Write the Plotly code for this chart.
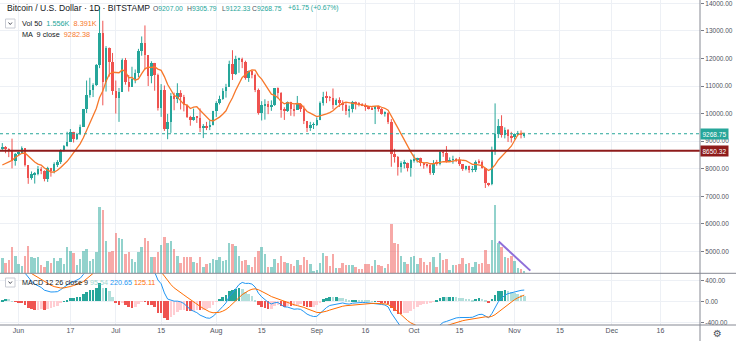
import plotly.graph_objects as go
import pandas as pd

# ---------------- data ----------------
dates = pd.date_range("2019-05-27", "2019-11-04", freq="D")

opens = [8740, 8770, 8720, 8660, 8270, 8550, 8560, 8740, 8120, 7680,
         7790, 7800, 7990, 7930, 7630, 8010, 7920, 8170, 8230, 8690,
         8840, 8980, 9320, 9080, 9270, 9530, 10150, 10690, 10850, 11030,
         11760, 12930, 11160, 12380, 11880, 10820, 10580, 10800, 11960, 11160,
         10980, 11260, 11480, 12290, 12570, 12120, 11380, 11820, 11390, 10220,
         10860, 9440, 9710, 10640, 10530, 10760, 10590, 10330, 9890, 9770,
         9880, 9850, 9480, 9530, 9500, 9600, 10080, 10400, 10530, 10820,
         10980, 11800, 11450, 11980, 11990, 11870, 11280, 11550, 11390, 10870,
         10030, 10300, 10360, 10230, 10330, 10920, 10760, 10130, 10110, 10410,
         10150, 10130, 10360, 10180, 9720, 9490, 9590, 9600, 9770, 10380,
         10620, 10580, 10570, 10310, 10490, 10400, 10320, 10100, 10160, 10420,
         10360, 10350, 10310, 10260, 10190, 10160, 10270, 10180, 9990, 10030,
         9690, 8530, 8430, 8060, 8190, 8210, 8040, 8300, 8330, 8390,
         8220, 8140, 8120, 7860, 8210, 8180, 8590, 8580, 8270, 8320,
         8340, 8310, 8160, 8000, 8080, 7960, 7970, 8240, 8230, 8030,
         7470, 7430, 8660, 9260, 9550, 9220, 9420, 9180, 9150, 9250,
         9310, 9207.00]

highs = [8930, 8820, 8740, 9090, 8570, 8620, 8810, 8750, 8120, 7900,
         7880, 8100, 8060, 7940, 8070, 8030, 8230, 8310, 8700, 8860,
         9340, 9440, 9340, 9300, 9600, 10170, 11200, 11300, 11100, 11800,
         13880, 13370, 12450, 12400, 12200, 11200, 10930, 12000, 12020, 11400,
         11700, 11600, 12350, 12800, 13200, 12120, 11900, 11840, 11450, 11070,
         11020, 9990, 10750, 10760, 11100, 10850, 10680, 10330, 9920, 10180,
         9900, 10190, 9620, 9700, 9750, 10100, 10450, 10650, 10920, 11080,
         11920, 12300, 12100, 12030, 12030, 11920, 11560, 11560, 11450, 10910,
         10450, 10520, 10460, 10480, 10930, 10950, 10780, 10230, 10440, 10430,
         10330, 10640, 10380, 10290, 9720, 9700, 9680, 9860, 10440, 10790,
         10800, 10640, 10910, 10550, 10590, 10480, 10380, 10290, 10460, 10440,
         10420, 10380, 10370, 10270, 10270, 10280, 10280, 10200, 10080, 10050,
         9800, 8720, 8460, 8270, 8320, 8220, 8340, 8520, 8400, 8400,
         8230, 8170, 8160, 8310, 8320, 8670, 8650, 8820, 8410, 8470,
         8390, 8420, 8170, 8110, 8110, 8100, 8300, 8340, 8300, 8040,
         7490, 8800, 10370, 9800, 9940, 9500, 9440, 9340, 9280, 9370,
         9390, 9305.79]

lows = [8650, 8560, 8420, 8010, 8110, 8470, 8530, 8080, 7450, 7600,
        7460, 7760, 7800, 7540, 7520, 7710, 7830, 8060, 8170, 8620,
        8800, 8970, 8950, 9040, 9220, 9530, 10020, 10580, 10600, 11000,
        11650, 10300, 10800, 11340, 10680, 10000, 9700, 10800, 11050, 10800,
        10980, 11100, 11320, 12100, 11600, 11000, 11100, 10830, 10110, 9880,
        9370, 9070, 9300, 10120, 10380, 10150, 10080, 9840, 9560, 9740,
        9660, 9330, 9110, 9400, 9400, 9570, 9880, 10330, 10500, 10580,
        10980, 11220, 11400, 11480, 11650, 11230, 11150, 11280, 10780, 9960,
        9750, 9780, 9980, 10100, 10280, 10550, 9850, 9770, 10060, 9920,
        9900, 10130, 10060, 9620, 9330, 9370, 9440, 9550, 9760, 10290,
        10380, 10450, 10160, 10300, 10240, 10100, 9950, 9860, 10040, 10150,
        10260, 10270, 10100, 10150, 10140, 9620, 10070, 9960, 9890, 9620,
        8070, 8220, 7750, 7860, 8010, 7900, 7710, 8220, 8220, 8090,
        8000, 8040, 7780, 7770, 8110, 8120, 8430, 8220, 8250, 8180,
        8240, 8100, 7920, 7940, 7850, 7870, 7880, 8180, 8000, 7300,
        7360, 7400, 8500, 9110, 9130, 9100, 8970, 8950, 9060, 9220,
        9100, 9122.33]

closes = [8770, 8720, 8660, 8270, 8550, 8560, 8740, 8120, 7680, 7790,
          7800, 7990, 7930, 7630, 8010, 7920, 8170, 8230, 8690, 8840,
          8980, 9320, 9080, 9270, 9530, 10150, 10690, 10850, 11030, 11760,
          12930, 11160, 12380, 11880, 10820, 10580, 10800, 11960, 11160, 10980,
          11260, 11480, 12290, 12570, 12120, 11380, 11820, 11390, 10220, 10860,
          9440, 9710, 10640, 10530, 10760, 10590, 10330, 9890, 9770, 9880,
          9850, 9480, 9530, 9500, 9600, 10080, 10400, 10530, 10820, 10980,
          11800, 11450, 11980, 11990, 11870, 11280, 11550, 11390, 10870, 10030,
          10300, 10360, 10230, 10330, 10920, 10760, 10130, 10110, 10410, 10150,
          10130, 10360, 10180, 9720, 9490, 9590, 9600, 9770, 10380, 10620,
          10580, 10570, 10310, 10490, 10400, 10320, 10100, 10160, 10420, 10360,
          10350, 10310, 10260, 10190, 10160, 10270, 10180, 9990, 10030, 9690,
          8530, 8430, 8060, 8190, 8210, 8040, 8300, 8330, 8390, 8220,
          8140, 8120, 7860, 8210, 8180, 8590, 8580, 8270, 8320, 8340,
          8310, 8160, 8000, 8080, 7960, 7970, 8240, 8230, 8030, 7470,
          7430, 8660, 9260, 9550, 9220, 9420, 9180, 9150, 9250, 9310,
          9207, 9268.75]

# volume, thousands of BTC
volumes = [9.4, 6.4, 8.0, 16.0, 10.6, 5.4, 4.6, 10.6, 16.4, 9.6,
           9.2, 9.6, 5.0, 4.0, 7.6, 6.0, 9.0, 7.6, 9.0, 5.6,
           16.0, 13.2, 12.0, 5.0, 8.4, 13.4, 14.4, 7.6, 8.4, 12.6,
           39.6, 38.0, 19.6, 13.0, 13.4, 24.2, 21.2, 20.4, 11.6, 12.8,
           8.4, 7.0, 12.8, 16.0, 21.0, 19.6, 9.6, 10.0, 13.0, 17.0,
           21.8, 18.0, 19.2, 14.4, 10.6, 6.0, 10.0, 9.6, 10.0, 6.6,
           6.0, 10.0, 4.0, 5.4, 6.0, 8.4, 8.0, 9.6, 7.4, 8.0,
           18.0, 17.4, 16.4, 10.6, 7.6, 8.0, 4.8, 3.6, 9.6, 13.4,
           15.6, 11.6, 4.0, 3.6, 8.4, 6.4, 10.4, 7.0, 6.0, 5.4,
           4.4, 7.8, 5.0, 9.6, 8.0, 5.6, 1.6, 2.0, 6.4, 12.0,
           10.6, 4.6, 11.4, 3.2, 3.2, 6.4, 5.0, 4.8, 4.8, 4.0,
           2.6, 2.4, 5.6, 5.6, 4.6, 8.0, 4.8, 4.4, 3.4, 5.6,
           29.6, 18.4, 17.6, 10.6, 6.8, 5.6, 10.0, 10.6, 5.4, 9.4,
           6.8, 4.8, 6.8, 10.0, 3.6, 12.4, 8.0, 8.4, 2.0, 4.8,
           4.8, 5.4, 9.0, 5.6, 6.0, 3.6, 6.8, 5.6, 6.0, 14.0,
           5.6, 20.0, 41.0, 18.4, 15.6, 9.6, 9.2, 10.4, 7.2, 3.2,
           2.6, 1.556]

# MA(9) values for the first bars (history before the visible range)
ma9_head = [8135, 8190, 8265, 8300, 8405, 8480, 8560, 8570]
# indicator state just before the first visible bar (EMA12, EMA26, signal)
macd_seed = {"ema12": 7640.0, "ema26": 7060.0, "signal": 595.0}

support_level = 8650.32
last_price = 9268.75
trend_dates = ["2019-10-27 03:00", "2019-11-05 21:00"]
trend_vol = [19.0, 1.6]

tick_dates = ["2019-06-01", "2019-06-17", "2019-07-01", "2019-07-15", "2019-08-01",
              "2019-08-15", "2019-09-01", "2019-09-16", "2019-10-01", "2019-10-15",
              "2019-11-01", "2019-11-15", "2019-12-01", "2019-12-16"]
tick_text = ["Jun", "17", "Jul", "15", "Aug", "15", "Sep", "16", "Oct", "15",
             "Nov", "15", "Dec", "16"]
price_ticks = [5000, 6000, 7000, 8000, 9000, 10000, 11000, 12000, 13000, 14000]
macd_ticks = [-400, 0, 400]

# ---------------- derived series ----------------
UP, DN = "#26a69a", "#ef5350"
n = len(closes)
up = [closes[i] >= opens[i] for i in range(n)]

ma9 = []
for i in range(n):
    if i < 8:
        ma9.append(ma9_head[i])
    else:
        ma9.append(sum(closes[i - 8:i + 1]) / 9.0)

e12, e26, sig = macd_seed["ema12"], macd_seed["ema26"], macd_seed["signal"]
macd, signal, hist = [], [], []
for c in closes:
    e12 += 2 / 13 * (c - e12)
    e26 += 2 / 27 * (c - e26)
    m = e12 - e26
    sig += 0.2 * (m - sig)
    macd.append(m)
    signal.append(sig)
    hist.append(m - sig)
hist_colors = []
for i, h in enumerate(hist):
    prev = hist[i - 1] if i > 0 else h
    if h >= 0:
        hist_colors.append("#26a69a" if h >= prev else "#b2dfdb")
    else:
        hist_colors.append("#ffcdd2" if h >= prev else "#ef5350")

DAY = 86400000
fig = go.Figure()

# volume (overlay axis)
fig.add_trace(go.Bar(x=dates, y=volumes, yaxis="y2", xaxis="x",
                     width=0.76 * DAY,
                     marker=dict(color=["rgba(38,166,154,0.5)" if u else "rgba(239,83,80,0.5)" for u in up],
                                 line=dict(width=0)),
                     hoverinfo="skip", showlegend=False))

# candles: wicks
for flag, col in ((True, UP), (False, DN)):
    wx, wy = [], []
    for i in range(n):
        if up[i] == flag:
            wx += [dates[i], dates[i], None]
            wy += [lows[i], highs[i], None]
    fig.add_trace(go.Scatter(x=wx, y=wy, mode="lines", line=dict(color=col, width=1),
                             yaxis="y", xaxis="x", hoverinfo="skip", showlegend=False))

# candles: bodies
body_base = [min(opens[i], closes[i]) for i in range(n)]
body_h = [max(abs(closes[i] - opens[i]), 25) for i in range(n)]
fig.add_trace(go.Bar(x=dates, y=body_h, base=body_base, yaxis="y", xaxis="x",
                     width=0.76 * DAY,
                     marker=dict(color=[UP if u else DN for u in up], line=dict(width=0)),
                     hoverinfo="skip", showlegend=False))

# MA 9
fig.add_trace(go.Scatter(x=dates, y=ma9, mode="lines", line=dict(color="#f7782b", width=1.3),
                         yaxis="y", xaxis="x", hoverinfo="skip", showlegend=False))

# MACD
fig.add_trace(go.Bar(x=dates, y=hist, yaxis="y3", xaxis="x", width=0.8 * DAY,
                     marker=dict(color=hist_colors, line=dict(width=0)),
                     hoverinfo="skip", showlegend=False))
fig.add_trace(go.Scatter(x=dates, y=macd, mode="lines", line=dict(color="#2196f3", width=1),
                         yaxis="y3", xaxis="x", hoverinfo="skip", showlegend=False))
fig.add_trace(go.Scatter(x=dates, y=signal, mode="lines", line=dict(color="#ff6d00", width=1),
                         yaxis="y3", xaxis="x", hoverinfo="skip", showlegend=False))

W, H = 736, 341
PW, PH = 700, 325
MAIN_BOTTOM = 273.3
dom_split = 1 - MAIN_BOTTOM / PH


def px(v):
    return v / PW


def py(v):
    return 1 - v / PH


GRID = "#edf0f5"
TXT = "#50535e"
FONT = "Liberation Sans, Arial, sans-serif"

fig.update_layout(
    width=W, height=H,
    margin=dict(l=0, r=W - PW, t=0, b=H - PH),
    paper_bgcolor="white", plot_bgcolor="white",
    barmode="overlay", bargap=0,
    showlegend=False,
    font=dict(family=FONT, color=TXT),
    xaxis=dict(type="date", range=["2019-05-26 07:00", "2019-12-28 05:00"],
               anchor="y3", tickvals=tick_dates, ticktext=tick_text,
               tickfont=dict(size=7, color=TXT), showgrid=True, gridcolor=GRID,
               gridwidth=1, zeroline=False, showline=False, ticks=""),
    yaxis=dict(domain=[dom_split, 1], range=[4203, 14123], side="right", anchor="x",
               tickvals=price_ticks, ticktext=[f"{v:.2f}" for v in price_ticks],
               tickfont=dict(size=6.5, color=TXT), ticks="outside", ticklen=3,
               tickcolor="#787b86", showgrid=True, gridcolor=GRID, zeroline=False,
               showline=False, ticklabeloverflow="allow"),
    yaxis2=dict(overlaying="y", range=[0, 163.8], visible=False, showgrid=False),
    yaxis3=dict(domain=[0, dom_split], range=[-440, 537], side="right", anchor="x",
                tickvals=macd_ticks, ticktext=[f"{v:.2f}" for v in macd_ticks],
                tickfont=dict(size=6.5, color=TXT), ticks="outside", ticklen=3,
                tickcolor="#787b86", showgrid=True, gridcolor=GRID, zeroline=False,
                showline=False, ticklabeloverflow="allow"),
)

shapes = []
# last price dotted line
shapes.append(dict(type="line", xref="paper", yref="y", x0=0, x1=1, y0=last_price, y1=last_price,
                   line=dict(color="#26a69a", width=1, dash="dot"), layer="above"))
# support line
shapes.append(dict(type="line", xref="paper", yref="y", x0=0, x1=1, y0=support_level, y1=support_level,
                   line=dict(color="#8e1b1b", width=2), layer="above"))
# volume trend line
shapes.append(dict(type="line", xref="x", yref="y2", x0=trend_dates[0], x1=trend_dates[1],
                   y0=trend_vol[0], y1=trend_vol[1], line=dict(color="#8f6fd9", width=2)))
# pane separators and axis borders
for yy in (MAIN_BOTTOM, PH):
    shapes.append(dict(type="line", xref="paper", yref="paper", x0=0, x1=W / PW,
                       y0=py(yy), y1=py(yy), line=dict(color="#868993", width=1)))
shapes.append(dict(type="line", xref="paper", yref="paper", x0=1, x1=1, y0=py(H), y1=1,
                   line=dict(color="#868993", width=1)))
# chevron boxes
for (bx0, by0) in ((5.5, 19), (5.5, 278)):
    shapes.append(dict(type="rect", xref="paper", yref="paper", x0=px(bx0), x1=px(bx0 + 9.5),
                       y0=py(by0 + 9), y1=py(by0), line=dict(color="#c9ccd4", width=1),
                       fillcolor="white"))
    shapes.append(dict(type="path", xref="paper", yref="paper",
                       path=f"M {px(bx0 + 3)},{py(by0 + 3.5)} L {px(bx0 + 4.75)},{py(by0 + 5.5)} L {px(bx0 + 6.5)},{py(by0 + 3.5)}",
                       line=dict(color="#50535e", width=1)))
fig.update_layout(shapes=shapes)

ann = []


def label(x, y, text, size=7.5, color="#131722", xanchor="left", font=FONT):
    ann.append(dict(xref="paper", yref="paper", x=px(x), y=py(y), text=text, showarrow=False,
                    xanchor=xanchor, yanchor="middle", font=dict(size=size, color=color, family=font)))


label(4.5, 8, "Bitcoin / U.S. Dollar · 1D · BITSTAMP", size=8.6, color="#131722")
tc = "#26a69a"
ohlc_parts = [(151, "O", "9207.00"), (184.5, "H", "9305.79"), (219.5, "L", "9122.33"),
              (249.5, "C", "9268.75"), (286, "", "+61.75 (+0.67%)")]
for xx, lab, val in ohlc_parts:
    label(xx, 8.3, f"{lab}<span style='color:{tc}'>{val}</span>", size=6.8, color="#50535e")
label(20, 23.5, "Vol 50  <span style='color:#26a69a'>1.556K</span>  <span style='color:#f7782b'>8.391K</span>",
      size=7.3)
label(20, 34.5, "MA  9 close  <span style='color:#f7782b'>9282.38</span>", size=7.3)
label(20, 282.5,
      "MACD 12 26 close 9 <span style='color:#9fd6cf'>95.54</span> <span style='color:#2196f3'>220.65</span> "
      "<span style='color:#ff6d00'>125.11</span>", size=7.2)

# price labels on the right axis
for val, bg in ((last_price, "#26a69a"), (support_level, "#8e1b1b")):
    ann.append(dict(xref="paper", yref="y", x=1.0, y=val, text=f"{val:.2f}", showarrow=False,
                    xanchor="left", yanchor="middle", bgcolor=bg, borderpad=1.5,
                    font=dict(size=6.5, color="white", family=FONT)))
# settings gear
label(717, 333, "⚙", size=10, color="#50535e", xanchor="center", font="DejaVu Sans")
fig.update_layout(annotations=ann)

fig.write_html("out.html")
